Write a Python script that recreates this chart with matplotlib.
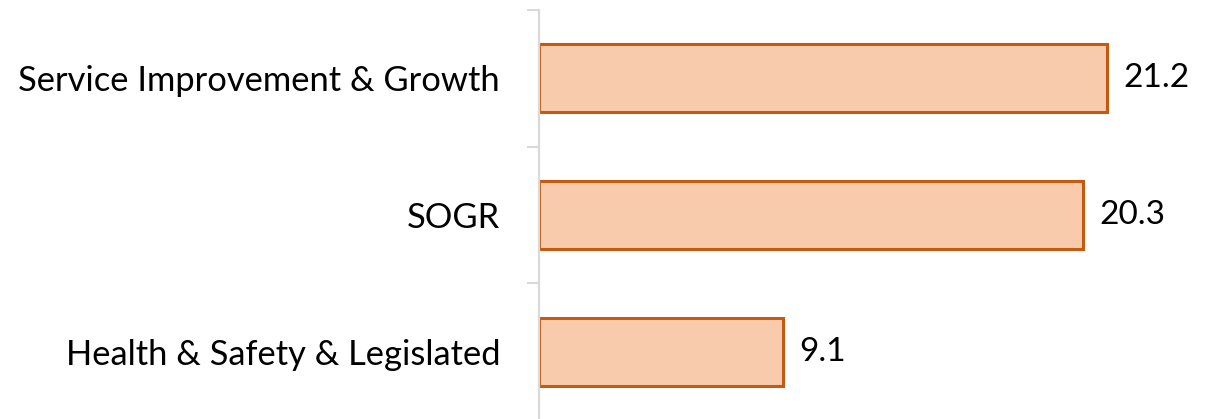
import matplotlib
matplotlib.use("Agg")
import matplotlib.pyplot as plt

categories = ["Service Improvement & Growth", "SOGR", "Health & Safety & Legislated"]
values = [21.2, 20.3, 9.1]

W, H = 1217, 419
fig = plt.figure(figsize=(W / 100, H / 100), dpi=100)
x0, x1 = 539, 1217
ytop, ybot = 10, 420
ax = fig.add_axes([x0 / W, 1 - ybot / H, (x1 - x0) / W, (ybot - ytop) / H])

pos = list(range(len(categories)))
ax.barh(pos, values, height=0.5, color="#F8CBAD", edgecolor="#C55A11", linewidth=2.2)
ax.set_ylim(len(categories) - 0.5, -0.5)
ax.set_xlim(0, (x1 - x0) / 26.8)

for p, v in zip(pos, values):
    ax.text(v + 0.62, p, f"{v}", va="center", ha="left", fontsize=24, family="Lato", color="#000000")

ax.set_yticks([i - 0.5 for i in range(len(categories) + 1)])
ax.set_yticklabels([])
ax.set_yticks(pos, minor=True)
ax.set_yticklabels(categories, minor=True, fontsize=24.8, family="Lato", color="#000000")
ax.tick_params(axis="y", which="major", length=9, width=1.4, color="#D9D9D9")
ax.tick_params(axis="y", which="minor", length=0, pad=28)
ax.set_xticks([])
for s in ["top", "right", "bottom"]:
    ax.spines[s].set_visible(False)
ax.spines["left"].set_color("#D9D9D9")
ax.spines["left"].set_linewidth(1.6)

fig.savefig("out.png", dpi=100)
